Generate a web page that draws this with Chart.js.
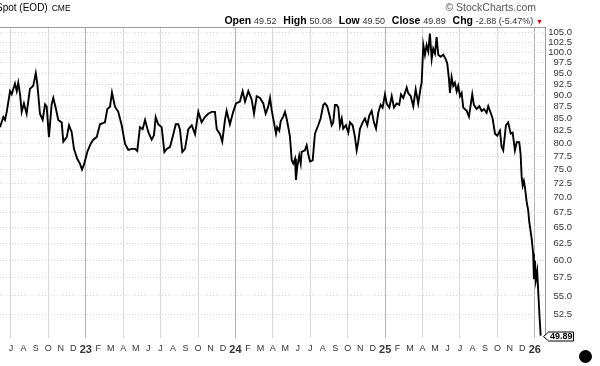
<!DOCTYPE html>
<html>
<head>
<meta charset="utf-8">
<script src="https://cdn.jsdelivr.net/npm/chart.js@4.4.1/dist/chart.umd.min.js"></script>
<style>
  html, body { margin: 0; padding: 0; background: #fff; }
  #wrap { position: relative; width: 600px; height: 366px; overflow: hidden;
          font-family: Arial, "Liberation Sans", sans-serif; }
  #wrap canvas { position: absolute; left: 0; top: 0; }
  .hdr { position: absolute; white-space: nowrap; color: #000; }
  #title { left: -4px; top: 2px; font-size: 10px; }
  #title small { font-size: 8.5px; margin-left: 4px; }
  #copy { right: 64px; top: 1px; font-size: 10.5px; color: #555; }
  #quote { right: 57px; top: 14px; font-size: 10px; }
  #quote b { font-size: 10.5px; margin-left: 4px; }
  #quote span { font-size: 9px; color: #333; }
  #quote i { font-style: normal; color: #c00; font-size: 7px; }
  #dot { position: absolute; left: 579px; top: 350px; width: 13px; height: 13px;
         border-radius: 50%; background: #000; }
</style>
</head>
<body>
<div id="wrap">
  <canvas id="spotChart" width="600" height="366"></canvas>
  <div class="hdr" id="title">Spot (EOD)<small>CME</small></div>
  <div class="hdr" id="copy">&copy; StockCharts.com</div>
  <div class="hdr" id="quote"><b>Open</b> <span>49.52</span> <b>High</b> <span>50.08</span> <b>Low</b> <span>49.50</span> <b>Close</b> <span>49.89</span> <b>Chg</b> <span>-2.88 (-5.47%)</span> <i>&#9660;</i></div>
  <div id="dot"></div>
</div>
<script>
// ── data (dates as decimal years) ─────────────────────────────
const dates = [
    2022.427, 2022.449, 2022.460, 2022.472, 2022.494, 2022.505, 2022.527, 2022.539, 2022.549, 2022.561,
    2022.572, 2022.587, 2022.605, 2022.627, 2022.649, 2022.666, 2022.676, 2022.694, 2022.712, 2022.728,
    2022.739, 2022.754, 2022.772, 2022.783, 2022.801, 2022.816, 2022.839, 2022.850, 2022.873, 2022.888,
    2022.906, 2022.921, 2022.943, 2022.961, 2022.975, 2022.988,
    2023.010, 2023.033, 2023.050, 2023.073, 2023.095, 2023.128, 2023.144, 2023.162, 2023.175, 2023.195,
    2023.217, 2023.240, 2023.262, 2023.284, 2023.307, 2023.329, 2023.344, 2023.362, 2023.380, 2023.396,
    2023.418, 2023.440, 2023.456, 2023.467, 2023.484, 2023.507, 2023.525, 2023.541, 2023.563, 2023.585,
    2023.601, 2023.618, 2023.629, 2023.645, 2023.663, 2023.685, 2023.708, 2023.730, 2023.752, 2023.774,
    2023.796, 2023.818, 2023.841, 2023.863, 2023.875, 2023.897, 2023.912, 2023.930, 2023.941, 2023.963,
    2023.985,
    2024.004, 2024.030, 2024.048, 2024.064, 2024.086, 2024.108, 2024.124, 2024.142, 2024.164, 2024.186,
    2024.202, 2024.219, 2024.231, 2024.242, 2024.257, 2024.271, 2024.279, 2024.293, 2024.302, 2024.319,
    2024.331, 2024.342, 2024.353, 2024.364, 2024.376, 2024.386, 2024.398, 2024.404, 2024.413, 2024.426,
    2024.436, 2024.442, 2024.464, 2024.476, 2024.486, 2024.498, 2024.516, 2024.531, 2024.553, 2024.569,
    2024.587, 2024.598, 2024.613, 2024.631, 2024.643, 2024.653, 2024.665, 2024.676, 2024.687, 2024.698,
    2024.710, 2024.720, 2024.738, 2024.754, 2024.765, 2024.783, 2024.798, 2024.810, 2024.820, 2024.832,
    2024.850, 2024.865, 2024.881, 2024.894, 2024.910, 2024.925, 2024.939, 2024.954, 2024.970, 2024.983,
    2024.999,
    2025.010, 2025.028, 2025.044, 2025.059, 2025.077, 2025.094, 2025.106, 2025.121, 2025.144, 2025.154,
    2025.171, 2025.188, 2025.204, 2025.221, 2025.237, 2025.244, 2025.255, 2025.266, 2025.277, 2025.288,
    2025.299, 2025.311, 2025.321, 2025.333, 2025.344, 2025.355, 2025.371, 2025.388, 2025.404, 2025.415,
    2025.426, 2025.433, 2025.444, 2025.455, 2025.466, 2025.478, 2025.488, 2025.500, 2025.511, 2025.522,
    2025.545, 2025.560, 2025.573, 2025.582, 2025.593, 2025.611, 2025.629, 2025.645, 2025.660, 2025.678,
    2025.689, 2025.705, 2025.718, 2025.734, 2025.749, 2025.767, 2025.778, 2025.789, 2025.807, 2025.822,
    2025.839, 2025.852, 2025.867, 2025.879, 2025.896, 2025.905, 2025.912, 2025.919, 2025.927, 2025.934,
    2025.945, 2025.956, 2025.963, 2025.979, 2025.989, 2025.994,
    2026.001, 2026.007, 2026.016, 2026.023, 2026.030, 2026.039,
];

const closes = [
    83.2, 85.3, 84.7, 86.4, 90.9, 90.2, 92.6, 90.9, 92.8, 90.2,
    86.4, 88.2, 86.0, 91.4, 92.1, 95.0, 92.6, 86.0, 84.7, 88.0,
    87.5, 81.2, 88.0, 89.4, 87.0, 84.7, 84.2, 80.3, 81.2, 83.6,
    82.2, 78.9, 77.0, 76.1, 75.0, 75.9,
    78.3, 79.9, 80.7, 81.2, 83.8, 84.2, 87.0, 87.5, 90.6, 87.5,
    86.4, 83.6, 79.9, 78.7, 78.9, 78.9, 78.5, 83.2, 82.8, 84.7,
    82.2, 80.7, 81.6, 85.3, 83.8, 83.2, 78.3, 78.9, 79.3, 81.8,
    83.8, 83.8, 82.8, 78.3, 78.9, 82.8, 83.6, 81.8, 86.4, 84.2,
    85.3, 86.0, 86.4, 86.4, 82.8, 81.8, 80.3, 84.7, 86.6, 83.8,
    86.4,
    88.2, 88.6, 90.9, 88.6, 90.9, 89.1, 86.0, 89.8, 89.4, 88.2,
    86.0, 87.5, 89.4, 86.8, 84.2, 81.9, 83.2, 82.5, 84.4, 85.4,
    86.4, 85.0, 83.2, 81.3, 76.7, 76.1, 77.0, 73.1, 75.5, 77.6,
    76.1, 78.3, 78.6, 79.6, 77.9, 76.5, 76.7, 81.9, 83.6, 85.0,
    87.9, 88.2, 87.6, 85.3, 83.6, 84.2, 87.9, 87.9, 87.3, 83.5,
    85.0, 82.9, 83.6, 82.1, 84.2, 83.6, 81.3, 78.6, 80.2, 82.9,
    84.2, 85.0, 83.6, 85.6, 86.6, 84.2, 82.9, 86.2, 87.9, 87.3,
    90.2,
    88.2, 87.3, 89.8, 87.3, 88.2, 87.9, 90.2, 89.4, 91.7, 90.5,
    89.8, 87.6, 91.3, 88.2, 91.7, 92.8, 101.8, 99.4, 101.8, 100.2,
    104.7, 98.4, 100.9, 99.7, 103.8, 99.4, 98.9, 99.4, 98.4, 97.3,
    93.8, 90.5, 94.1, 92.1, 92.8, 90.9, 92.1, 89.8, 90.5, 87.3,
    86.6, 85.4, 88.2, 90.2, 87.9, 87.0, 87.6, 86.6, 87.0, 86.2,
    87.6, 86.2, 85.0, 81.9, 81.5, 82.5, 79.3, 78.6, 83.6, 84.2,
    81.9, 82.1, 78.6, 80.2, 80.2, 77.9, 73.7, 72.1, 72.9, 71.8,
    69.4, 67.8, 65.9, 63.3, 61.0, 57.3,
    60.0, 57.2, 58.4, 55.5, 52.8, 49.89,
];

const yTicks = [52.5, 55, 57.5, 60, 62.5, 65, 67.5, 70, 72.5, 75, 77.5, 80,
                82.5, 85, 87.5, 90, 92.5, 95, 97.5, 100, 102.5, 105];
const monthLetters = ['J', 'F', 'M', 'A', 'M', 'J', 'J', 'A', 'S', 'O', 'N', 'D'];
const firstMonth = 2022.5;   // Jul 2022
const monthCount = 43;       // through Jan 2026
const xRange = [2022.427, 2026.068];
const yRange = [49.6, 106.4];

// helpers for month ticks
const monthIdx = v => Math.round((v - firstMonth) * 12);
const monthOf  = v => (monthIdx(v) + 6) % 12;

const lastBox = {
    id: 'lastBox',
    afterDraw(chart) {
        const { ctx, chartArea } = chart;
        const last = closes[closes.length - 1];
        const y = Math.round(chart.scales.y.getPixelForValue(last)) + 0.5;
        const x0 = chartArea.right - 1.5;
        ctx.save();
        // top border of plot
        ctx.strokeStyle = '#9a9a9a';
        ctx.lineWidth = 1;
        ctx.beginPath();
        ctx.moveTo(chartArea.left, chartArea.top + 0.5);
        ctx.lineTo(chartArea.right, chartArea.top + 0.5);
        ctx.stroke();
        // last value tag
        ctx.fillStyle = '#fff';
        ctx.strokeStyle = '#000';
        ctx.beginPath();
        ctx.moveTo(x0, y);
        ctx.lineTo(x0 + 5, y - 4.5);
        ctx.lineTo(x0 + 30, y - 4.5);
        ctx.lineTo(x0 + 30, y + 4.5);
        ctx.lineTo(x0 + 5, y + 4.5);
        ctx.closePath();
        ctx.fill();
        ctx.stroke();
        ctx.fillStyle = '#000';
        ctx.font = 'bold 9px Arial, "Liberation Sans", sans-serif';
        ctx.textAlign = 'right';
        ctx.textBaseline = 'middle';
        ctx.fillText(last.toFixed(2), x0 + 29, y + 0.5);
        ctx.restore();
    },
};

new Chart(document.getElementById('spotChart'), {
    type: 'line',
    data: {
        datasets: [{
            data: dates.map((d, i) => ({ x: d, y: closes[i] })),
            borderColor: '#000', borderWidth: 1.9,
            pointRadius: 0, tension: 0, fill: false,
        }],
    },
    options: {
        responsive: false, animation: false,
        layout: { padding: { top: 27, left: 0, right: 28, bottom: 0 } },
        plugins: { legend: { display: false }, tooltip: { enabled: false } },
        scales: {
            x: {
                type: 'linear', min: xRange[0], max: xRange[1],
                afterBuildTicks: s => {
                    s.ticks = [];
                    for (let k = 0; k < monthCount; k++) s.ticks.push({ value: firstMonth + k / 12 });
                },
                afterFit: s => { s.height = 28; },
                grid: {
                    drawTicks: false,
                    color: c => {
                        if (!c.tick) return 'rgba(0,0,0,0)';
                        const m = monthOf(c.tick.value);
                        if (m === 0) return '#b4b4b4';
                        return m % 3 === 0 ? '#d8d8d8' : 'rgba(0,0,0,0)';
                    },
                },
                border: { display: false },
                ticks: {
                    autoSkip: false, maxRotation: 0, padding: 5, color: '#333',
                    font: c => (c.tick && monthOf(c.tick.value) === 0)
                        ? { family: 'Arial', size: 11, weight: 'bold' }
                        : { family: 'Arial', size: 9 },
                    callback: v => {
                        const m = monthOf(v);
                        if (m === 0) return String(Math.round(v) % 100);
                        return monthLetters[m];
                    },
                },
            },
            y: {
                type: 'logarithmic', position: 'right', min: yRange[0], max: yRange[1],
                afterBuildTicks: s => { s.ticks = yTicks.map(v => ({ value: v })); },
                afterFit: s => { s.width = 27; },
                grid: { drawTicks: false, color: '#d8d8d8' },
                border: { display: true, color: '#9a9a9a', dash: [1, 2] },
                ticks: {
                    crossAlign: 'far', padding: 3, color: '#333',
                    font: { family: 'Arial', size: 9.5 },
                    callback: v => Number(v).toFixed(1),
                },
            },
        },
    },
    plugins: [lastBox],
});
</script>
</body>
</html>
